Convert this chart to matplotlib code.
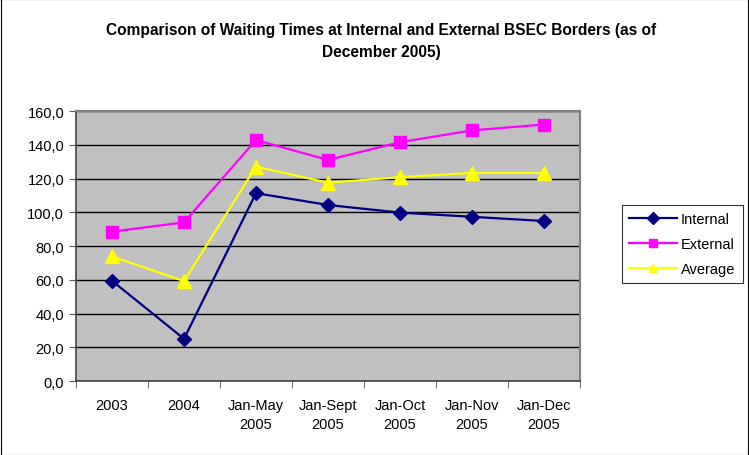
import matplotlib.pyplot as plt
from matplotlib.ticker import FuncFormatter

plt.rcParams['font.family'] = ['Liberation Sans', 'DejaVu Sans']

# chart data
categories = ['2003', '2004', 'Jan-May\n2005', 'Jan-Sept\n2005', 'Jan-Oct\n2005',
              'Jan-Nov\n2005', 'Jan-Dec\n2005']
internal = [59.4, 25.0, 111.3, 104.3, 99.8, 97.3, 94.8]
external = [88.5, 94.0, 142.8, 131.0, 141.5, 148.5, 152.0]
average = [73.8, 59.2, 127.0, 117.5, 120.8, 123.3, 123.3]

fig = plt.figure(figsize=(7.49, 4.56), dpi=100)
ax = fig.add_axes([76 / 749, 1 - 382 / 456, (580 - 76) / 749, (382 - 112) / 456])
ax.set_facecolor('#C0C0C0')

x = range(len(categories))
ax.plot(x, internal, color='#000080', marker='D', markersize=7, linewidth=1.6, label='Internal')
ax.plot(x, external, color='#FF00FF', marker='s', markersize=8, linewidth=1.6, label='External')
ax.plot(x, average, color='#FFFF00', marker='^', markersize=10, linewidth=1.6, label='Average')

ax.set_ylim(0, 160)
ax.set_xlim(-0.5, len(categories) - 0.5)
ax.set_yticks(range(0, 161, 20))
ax.yaxis.set_major_formatter(FuncFormatter(lambda v, p: f'{v:.1f}'.replace('.', ',')))
ax.grid(axis='y', color='black', linewidth=1)
ax.set_axisbelow(True)

ax.set_xticks(list(x))
ax.set_xticklabels(categories, fontsize=10.5, linespacing=1.45)
ax.tick_params(axis='x', which='major', length=0, pad=12)
ax.set_xticks([i - 0.5 for i in range(len(categories) + 1)], minor=True)
ax.tick_params(axis='x', which='minor', length=5, direction='out', color='#555555')
ax.tick_params(axis='y', labelsize=10.5, length=5, direction='out', color='#555555')

for side in ['left', 'bottom']:
    ax.spines[side].set_color('#444444')
    ax.spines[side].set_linewidth(1.2)
for side in ['top', 'right']:
    ax.spines[side].set_color('#808080')
    ax.spines[side].set_linewidth(1.5)

fig.text(0.509, 1 - 31 / 456, 'Comparison of Waiting Times at Internal and External BSEC Borders (as of',
         ha='center', va='center', fontsize=11.2, fontweight='bold')
fig.text(0.509, 1 - 53 / 456, 'December 2005)', ha='center', va='center', fontsize=11.2, fontweight='bold')

leg = fig.legend(loc='center left', bbox_to_anchor=(622 / 749, 1 - 245 / 456), fontsize=10.5,
                 frameon=True, fancybox=False, edgecolor='black', handlelength=3.3,
                 borderpad=0.5, labelspacing=0.75, handletextpad=0.25, borderaxespad=0)
leg.get_frame().set_linewidth(0.8)
for h in leg.legend_handles:
    h.set_markersize(6)

fig.patches.append(plt.Rectangle((0.001, 0.001), 0.998, 0.998, transform=fig.transFigure,
                                 fill=False, edgecolor='black', linewidth=0.8))

fig.savefig('out.png', dpi=100)
